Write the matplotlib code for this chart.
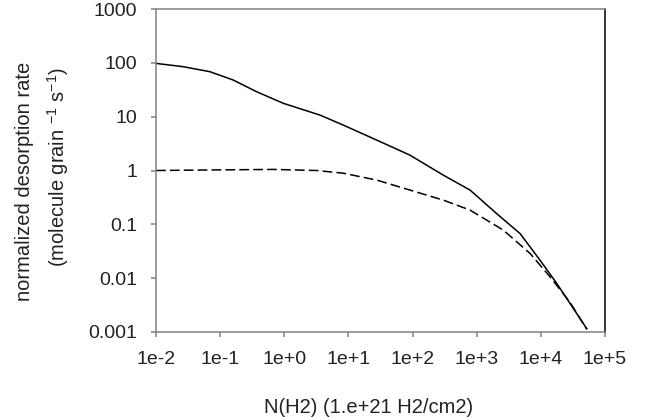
import matplotlib
matplotlib.use("Agg")
from matplotlib import pyplot as plt
from matplotlib.ticker import FixedLocator, FixedFormatter, NullLocator

plt.rcParams['font.family'] = ['Liberation Sans', 'DejaVu Sans']
plt.rcParams['mathtext.fontset'] = 'custom'
plt.rcParams['mathtext.rm'] = 'Liberation Sans'
plt.rcParams['lines.scale_dashes'] = False

# column density N(H2) in units of 1e21 H2/cm2
nh2_solid = [0.01, 0.0267, 0.0695, 0.16, 0.372, 0.966, 3.6, 8.3, 27.6, 91,
             301, 787, 2050, 4730, 9700, 17700, 28500, 52000]
rate_solid = [97.7, 84.7, 68.4, 47.9, 29.0, 17.7, 10.7, 6.98, 3.67, 1.93,
              0.82, 0.433, 0.158, 0.0676, 0.0216, 0.00798, 0.00339, 0.00115]

nh2_dashed = [0.01, 0.0695, 0.676, 3.2, 8.3, 27.6, 91, 301, 787, 2600,
              6780, 13900, 28500, 52000]
rate_dashed = [1.0, 1.023, 1.047, 1.0, 0.891, 0.664, 0.433, 0.282, 0.184,
               0.078, 0.0288, 0.0106, 0.00355, 0.00112]

xticks = [1e-2, 1e-1, 1e0, 1e1, 1e2, 1e3, 1e4, 1e5]
xlabels = ["1e-2", "1e-1", "1e+0", "1e+1", "1e+2", "1e+3", "1e+4", "1e+5"]
yticks = [1e-3, 1e-2, 1e-1, 1, 10, 100, 1000]
ylabels = ["0.001", "0.01", "0.1", "1", "10", "100", "1000"]

fig = plt.figure(figsize=(6.53, 4.17), dpi=100)
ax = fig.add_axes([156/653, 1-332/417, 449/653, 323/417])

ax.plot(nh2_solid, rate_solid, color="black", lw=1.1)
ax.plot(nh2_dashed, rate_dashed, color="black", lw=1.1, linestyle=(0, (7, 3)))

ax.set_xscale("log")
ax.set_yscale("log")
ax.set_xlim(1e-2, 1e5)
ax.set_ylim(1e-3, 1e3)

ax.xaxis.set_major_locator(FixedLocator(xticks))
ax.xaxis.set_major_formatter(FixedFormatter(xlabels))
ax.yaxis.set_major_locator(FixedLocator(yticks))
ax.yaxis.set_major_formatter(FixedFormatter(ylabels))
ax.xaxis.set_minor_locator(NullLocator())
ax.yaxis.set_minor_locator(NullLocator())

gray = "#808080"
for s in ["left", "top", "bottom"]:
    ax.spines[s].set_color(gray)
    ax.spines[s].set_linewidth(1.1)
ax.spines["right"].set_color("black")
ax.spines["right"].set_linewidth(1.1)
ax.tick_params(direction="out", length=3.4, width=1.1, color=gray,
               labelsize=14, labelcolor="#222222")
ax.tick_params(axis="y", pad=10)
ax.tick_params(axis="x", pad=10)

ax.set_xlabel("N(H2) (1.e+21 H2/cm2)", fontsize=14.5, color="#222222")
ax.xaxis.set_label_coords(0.474, -0.205)

ax.text(-0.292, 0.466, "normalized desorption rate", transform=ax.transAxes,
        rotation=90, ha="center", va="center", fontsize=14.5, color="#222222")
ax.text(-0.218, 0.511, r"(molecule grain $^{-1}$ s$^{-1}$)",
        transform=ax.transAxes, rotation=90, ha="center", va="center",
        fontsize=14.5, color="#222222")

fig.savefig("out.png", dpi=100)
